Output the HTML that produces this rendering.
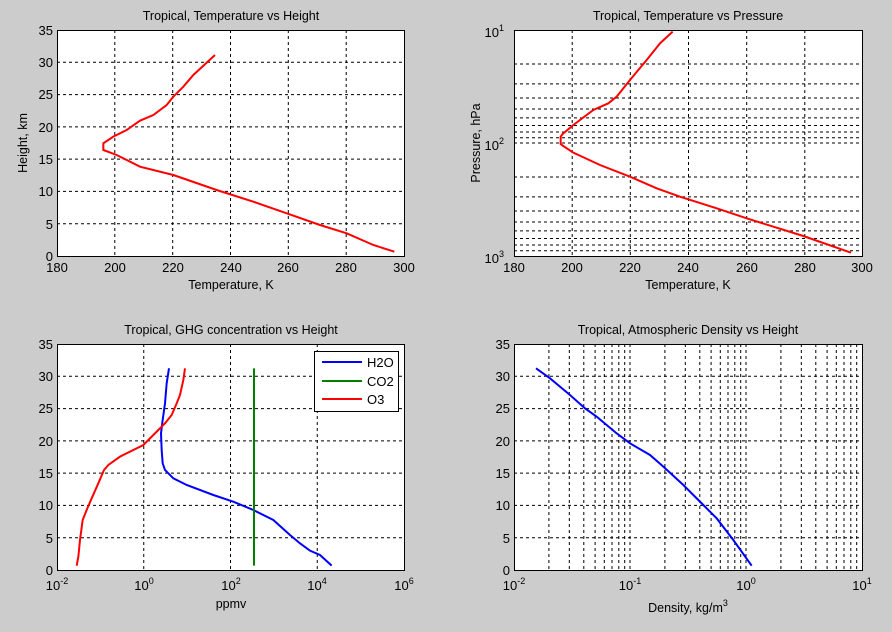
<!DOCTYPE html>
<html><head><meta charset="utf-8"><style>
body{margin:0;background:#cccccc}
svg{display:block}
text{font-family:"Liberation Sans",Arial,sans-serif;fill:#000}
.t{font-size:12.5px}
.k{font-size:13px}
.g{stroke:#000;stroke-width:1;stroke-dasharray:3,3;fill:none}
.ax{fill:#fff;stroke:#000;stroke-width:1}
</style></head><body>
<svg width="892" height="632" viewBox="0 0 892 632" xmlns="http://www.w3.org/2000/svg">
<rect width="892" height="632" fill="#cccccc"/>

<!-- Panel 1 -->
<rect class="ax" x="57.5" y="30.5" width="347" height="226"/>
<path class="g" d="M114.8 30V256M172.7 30V256M230.5 30V256M288.3 30V256M346.2 30V256M57 223.7H404M57 191.4H404M57 159.1H404M57 126.9H404M57 94.6H404M57 62.3H404"/>
<g transform="translate(0,0) scale(0.33333)"><polyline fill="none" stroke="#f00" stroke-width="6" points="1183,755 1120,735 1040,700 960,675 860,640 760,605 650,570 520,525 420,500 350,465 310,450 310,430 340,410 380,390 420,362 460,345 500,315 520,290 550,260 580,225 645,165"/></g>
<text class="t" x="231" y="20" text-anchor="middle">Tropical, Temperature vs Height</text>
<g class="k" text-anchor="end"><text x="53" y="261">0</text><text x="53" y="229">5</text><text x="53" y="196">10</text><text x="53" y="164">15</text><text x="53" y="132">20</text><text x="53" y="99">25</text><text x="53" y="67">30</text><text x="53" y="35">35</text></g>
<g class="k" text-anchor="middle"><text x="57" y="272">180</text><text x="115" y="272">200</text><text x="173" y="272">220</text><text x="231" y="272">240</text><text x="288" y="272">260</text><text x="346" y="272">280</text><text x="404" y="272">300</text></g>
<text class="t" x="231" y="289" text-anchor="middle">Temperature, K</text>
<text class="t" transform="translate(27,143) rotate(-90)" text-anchor="middle">Height, km</text>

<!-- Panel 2 -->
<rect class="ax" x="514.5" y="30.5" width="348" height="226"/>
<path class="g" d="M572.2 30V256M630.3 30V256M688.5 30V256M746.7 30V256M804.8 30V256M514 64H862M514 83.9H862M514 98H862M514 109H862M514 117.9H862M514 125.5H862M514 132H862M514 137.8H862M514 143H862M514 177H862M514 196.9H862M514 211H862M514 222H862M514 230.9H862M514 238.5H862M514 245H862M514 250.8H862"/>
<g transform="translate(450,0) scale(0.33333)"><polyline fill="none" stroke="#f00" stroke-width="6" points="1203,758 1060,708 890,655 800,625 690,590 620,565 540,530 450,495 370,458 340,438 332,432 332,410 338,402 370,375 430,330 475,310 500,290 540,240 590,180 630,130 668,95"/></g>
<text class="t" x="688" y="20" text-anchor="middle">Tropical, Temperature vs Pressure</text>
<g class="k" text-anchor="end"><text x="504" y="37">10<tspan font-size="9" dy="-6">1</tspan></text><text x="504" y="150">10<tspan font-size="9" dy="-6">2</tspan></text><text x="504" y="263">10<tspan font-size="9" dy="-6">3</tspan></text></g>
<g class="k" text-anchor="middle"><text x="514" y="272">180</text><text x="572" y="272">200</text><text x="630" y="272">220</text><text x="688" y="272">240</text><text x="747" y="272">260</text><text x="805" y="272">280</text><text x="862" y="272">300</text></g>
<text class="t" x="688" y="289" text-anchor="middle">Temperature, K</text>
<text class="t" transform="translate(480,143) rotate(-90)" text-anchor="middle">Pressure, hPa</text>

<!-- Panel 3 -->
<rect class="ax" x="57.5" y="344.5" width="347" height="226"/>
<path class="g" d="M143.75 344V570M230.5 344V570M317.25 344V570M57 537.7H404M57 505.4H404M57 473.1H404M57 440.9H404M57 408.6H404M57 376.3H404"/>
<g transform="translate(0,310) scale(0.33333)">
<polyline fill="none" stroke="#00f" stroke-width="6" points="995,767 960,735 930,722 900,700 870,675 820,630 760,600 700,575 640,555 560,525 520,505 495,480 488,460 485,420 483,370 488,330 495,280 500,220 507,175"/>
<polyline fill="none" stroke="#007f00" stroke-width="6" points="762,175 762,767"/>
<polyline fill="none" stroke="#f00" stroke-width="6" points="230,767 235,740 240,690 248,630 262,595 275,565 295,520 312,480 325,465 360,440 400,420 430,405 460,375 495,340 515,315 530,280 540,255 550,210 555,175"/>
</g>
<rect x="314.5" y="351.5" width="84" height="60" fill="#fff" stroke="#000"/>
<line x1="322" y1="362" x2="362" y2="362" stroke="#00f" stroke-width="2"/>
<line x1="322" y1="381" x2="362" y2="381" stroke="#007f00" stroke-width="2"/>
<line x1="322" y1="399" x2="362" y2="399" stroke="#f00" stroke-width="2"/>
<g class="k"><text x="367" y="367">H2O</text><text x="367" y="386">CO2</text><text x="367" y="404">O3</text></g>
<text class="t" x="231" y="334" text-anchor="middle">Tropical, GHG concentration vs Height</text>
<g class="k" text-anchor="end"><text x="53" y="575">0</text><text x="53" y="543">5</text><text x="53" y="510">10</text><text x="53" y="478">15</text><text x="53" y="446">20</text><text x="53" y="413">25</text><text x="53" y="381">30</text><text x="53" y="349">35</text></g>
<g class="k" text-anchor="middle"><text x="57" y="590">10<tspan font-size="9" dy="-6">-2</tspan></text><text x="144" y="590">10<tspan font-size="9" dy="-6">0</tspan></text><text x="231" y="590">10<tspan font-size="9" dy="-6">2</tspan></text><text x="317" y="590">10<tspan font-size="9" dy="-6">4</tspan></text><text x="404" y="590">10<tspan font-size="9" dy="-6">6</tspan></text></g>
<text class="t" x="231" y="608" text-anchor="middle">ppmv</text>

<!-- Panel 4 -->
<rect class="ax" x="514.5" y="344.5" width="348" height="226"/>
<path class="g" d="M548.9 344V570M569.3 344V570M583.8 344V570M595.1 344V570M604.3 344V570M612 344V570M618.8 344V570M624.7 344V570M630 344V570M664.9 344V570M685.3 344V570M699.8 344V570M711.1 344V570M720.3 344V570M728 344V570M734.8 344V570M740.7 344V570M746 344V570M780.9 344V570M801.3 344V570M815.8 344V570M827.1 344V570M836.3 344V570M844 344V570M850.8 344V570M856.7 344V570M514 537.7H862M514 505.4H862M514 473.1H862M514 440.9H862M514 408.6H862M514 376.3H862"/>
<g transform="translate(450,310) scale(0.33333)"><polyline fill="none" stroke="#00f" stroke-width="6" points="258,175 300,205 360,255 405,295 440,320 500,370 540,400 600,435 640,470 700,525 760,585 800,625 850,690 905,767"/></g>
<text class="t" x="688" y="334" text-anchor="middle">Tropical, Atmospheric Density vs Height</text>
<g class="k" text-anchor="end"><text x="510" y="575">0</text><text x="510" y="543">5</text><text x="510" y="510">10</text><text x="510" y="478">15</text><text x="510" y="446">20</text><text x="510" y="413">25</text><text x="510" y="381">30</text><text x="510" y="349">35</text></g>
<g class="k" text-anchor="middle"><text x="514" y="590">10<tspan font-size="9" dy="-6">-2</tspan></text><text x="630" y="590">10<tspan font-size="9" dy="-6">-1</tspan></text><text x="746" y="590">10<tspan font-size="9" dy="-6">0</tspan></text><text x="862" y="590">10<tspan font-size="9" dy="-6">1</tspan></text></g>
<text class="t" x="688" y="612" text-anchor="middle">Density, kg/m<tspan font-size="9" dy="-6">3</tspan></text>
</svg>
</body></html>
